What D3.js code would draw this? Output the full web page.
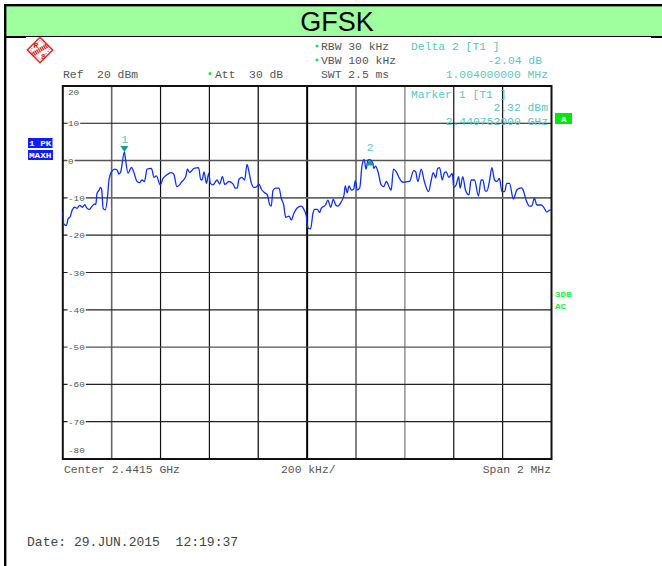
<!DOCTYPE html>
<html><head><meta charset="utf-8">
<script src="https://cdn.jsdelivr.net/npm/d3@7/dist/d3.min.js"></script>
<style>html,body{margin:0;padding:0;background:#fff}svg{display:block}
text{white-space:pre;font-family:"Liberation Mono","DejaVu Sans Mono",monospace}</style>
</head><body><svg id="c" width="662" height="566"></svg>
<script>
const title = "GFSK";
const traceOffsetKHz = [1,4,15,22,29,39,49,58,69,80,90,97,108,120,131,135,140,149,154,159,165,174,183,189,199,213,222,230,237,252,256,267,281,290,304,315,324,334,345,363,373,383,399,410,424,442,454,467,478,488,503,
510,519,537,556,564,570,578,588,597,604,615,631,642,653,663,680,697,706,714,721,733,744,754,762,772,783,793,803,812,826,837,847,853,860,870,885,894,904,912,926,935,946,965,976,987,997,1003,1014,1024,1031,
1042,1051,1058,1075,1085,1096,1107,1117,1126,1140,1151,1156,1164,1171,1181,1190,1197,1205,1215,1224,1233,1241,1249,1256,1269,1272,1280,1290,1303,1313,1324,1338,1344,1353,1365,1378,1392,1419,1436,1444,1453,1467,1478,1497,1508,1516,
1526,1534,1542,1553,1562,1569,1580,1594,1600,1610,1620,1626,1637,1648,1662,1671,1685,1701,1712,1719,1729,1735,1746,1756,1767,1776,1787,1797,1808,1817,1828,1844,1858,1876,1883,1896,1910,1919,1930,1940,1958,1967,1981,1992,1999];
const traceLevelDbm = [-13.7,-17.0,-17.4,-15.5,-15.2,-13.2,-12.5,-12.8,-12.0,-12.5,-11.8,-12.6,-13.1,-12.2,-11.6,-11.8,-8.8,-7.9,-7.2,-7.7,-12.8,-13.2,-9.7,-5.2,-3.0,-2.3,-2.5,-3.6,-3.0,2.32,0.6,-3.4,-1.8,-3.0,-5.6,-5.9,-5.2,-5.6,-2.3,-2.1,-4.5,-4.1,-6.5,-4.8,-3.9,-3.2,-3.6,-7.0,-6.5,-5.6,-4.3,
-2.3,-3.2,-2.1,-1.9,-5.0,-5.2,-3.0,-6.1,-3.4,-6.1,-6.5,-5.2,-6.3,-4.3,-6.4,-5.6,-6.3,-7.4,-7.4,-5.0,-4.5,-5.2,-1.0,-3.0,-6.1,-7.2,-7.0,-6.3,-7.6,-8.6,-9.2,-11.9,-12.2,-8.1,-7.4,-7.4,-10.1,-11.9,-15.2,-14.9,-15.9,-14.1,-12.4,-12.2,-13.1,-15.0,-18.0,-18.3,-14.1,-13.1,
-13.1,-13.9,-12.8,-11.9,-10.6,-12.5,-10.4,-11.9,-12.2,-11.0,-9.2,-6.8,-8.6,-6.8,-7.9,-7.7,-5.4,-7.9,-7.4,-1.6,0.3,-2.3,0.2,0.28,-0.7,-2.1,-1.5,-3.0,-6.5,-7.0,-5.6,-7.4,-7.9,-2.3,-3.0,-4.8,-5.8,-5.6,-2.7,-3.0,-5.6,-2.3,-5.2,-8.3,-5.2,-3.2,
-4.6,-2.1,-1.9,-5.2,-3.2,-3.0,-4.5,-3.4,-7.2,-6.5,-4.3,-7.4,-4.3,-7.9,-9.2,-5.2,-5.2,-9.5,-5.2,-5.2,-8.1,-8.2,-5.6,-1.9,-5.2,-5.6,-4.8,-8.3,-8.3,-6.1,-6.1,-10.3,-7.9,-7.3,-7.7,-10.6,-12.2,-12.2,-10.1,-11.9,-11.9,-12.4,-13.8,-13.3,-13.3];
const yTickValues = [20,10,0,-10,-20,-30,-40,-50,-60,-70,-80];
const xTickOffsets = [200,400,600,800,1000,1200,1400,1600,1800];
const markerNames = ["1","2"];
const markerOffsetKHz = [252,1256];
const markerLevelDbm = [2.32,0.28];
const headerLeft = ["RBW 30 kHz","VBW 100 kHz","SWT 2.5 ms"];
const markerDelta = ["Delta 2 [T1 ]","-2.04 dB","1.004000000 MHz"];
const markerOne = ["Marker 1 [T1 ]","2.32 dBm","2.440752000 GHz"];
const traceNames = ["1 PK","MAXH"];
const statusFlags = ["3DB","AC"];

const svg = d3.select("#c");
const W = 662, H = 566;
const L = 62.8, R = 551.5, T = 86, B = 459;
const CH = 6.82;
const x = d3.scaleLinear().domain([0,2000]).range([L,R]);
const y = d3.scaleLinear().domain([20,-80]).range([T,B]);

function label(s, px, py, o={}) {
  const n = s.length, w = (o.ch||CH)*n, fs = o.fs||10;
  const left = o.right ? px - w : px;
  return svg.append("text").attr("x",left).attr("y",py).attr("font-size",fs)
    .attr("fill",o.fill||"#555").attr("font-weight",o.bold?"bold":null)
    .attr("textLength",w).attr("lengthAdjust","spacingAndGlyphs").text(s);
}

// header and page frame
svg.append("rect").attr("x",5).attr("y",5).attr("width",W-5).attr("height",31).attr("fill","#9fff9f");
svg.append("rect").attr("x",4).attr("y",4).attr("width",W-4).attr("height",2.4).attr("fill","#000");
svg.append("rect").attr("x",4).attr("y",4).attr("width",2.4).attr("height",H-4).attr("fill","#000");
svg.append("rect").attr("x",5).attr("y",36).attr("width",W-5).attr("height",1).attr("fill","#000");
svg.append("rect").attr("x",5).attr("y",36).attr("width",21).attr("height",2).attr("fill","#000");
svg.append("rect").attr("x",651).attr("y",36).attr("width",11).attr("height",2).attr("fill","#000");
svg.append("text").attr("x",337).attr("y",31).attr("text-anchor","middle")
  .style("font-family","'Liberation Sans',Arial,sans-serif").attr("font-size",27).attr("fill","#000").text(title);

// R&S logo
const logo = svg.append("g").attr("transform","translate(40,50)");
logo.append("rect").attr("x",-9).attr("y",-9).attr("width",18).attr("height",18).attr("transform","rotate(45)")
  .attr("fill","#fff").attr("stroke","#d22").attr("stroke-width",1.4);
logo.append("rect").attr("x",-6.8).attr("y",-6.8).attr("width",13.6).attr("height",13.6).attr("transform","rotate(45)")
  .attr("fill","none").attr("stroke","#d22").attr("stroke-width",0.8).attr("stroke-dasharray","1.5 1.5");
logo.append("line").attr("x1",-8).attr("y1",5).attr("x2",8).attr("y2",-5).attr("stroke","#d33").attr("stroke-width",4.5).attr("stroke-dasharray","1.4 0.6");
logo.append("text").attr("x",-4).attr("y",-2).attr("text-anchor","middle").attr("font-size",8).attr("font-weight","bold").attr("fill","#c22").text("R");
logo.append("text").attr("x",3.5).attr("y",8.5).attr("text-anchor","middle").attr("font-size",8).attr("font-weight","bold").attr("fill","#c22").text("S");

// top instrument readouts
label("Ref  20 dBm",63,78);
label("Att  30 dB",215,78);
headerLeft.forEach((s,i)=>label(s,321,50+14*i));
[[317,46],[317,60],[210,73.5]].forEach(p=>svg.append("circle").attr("cx",p[0]).attr("cy",p[1]).attr("r",1.5).attr("fill","#22dd55"));
label(markerDelta[0],411,50,{fill:"#5cc4c4"});
label(markerDelta[1],542,64,{fill:"#5cc4c4",right:true});
label(markerDelta[2],548,78,{fill:"#5cc4c4",right:true});

// grid via axes
const vStyle = {200:["#666",1.6],400:["#111",1.2],600:["#111",1.2],800:["#333",1.5],1000:["#000",2],1200:["#666",1.6],1400:["#777",1.2],1600:["#111",1.2],1800:["#111",1.2]};
const hStyle = {10:["#111",1.1],0:["#555",1.5],"-10":["#666",1.6],"-20":["#222",1.2],"-30":["#222",1.2],"-40":["#222",1.2],"-50":["#555",1.4],"-60":["#222",1.2],"-70":["#222",1.2]};

const gx = svg.append("g").attr("transform",`translate(0,${B})`)
  .call(d3.axisBottom(x).offset(0).tickValues(xTickOffsets).tickSize(-(B-T)).tickFormat(""));
gx.select(".domain").remove();
gx.selectAll(".tick line").attr("stroke",d=>vStyle[d][0]).attr("stroke-width",d=>vStyle[d][1]);

const gy = svg.append("g").attr("transform",`translate(${L},0)`)
  .call(d3.axisLeft(y).offset(0).tickValues(yTickValues.filter(v=>v!==20&&v!==-80)).tickSize(-(R-L)).tickFormat(""));
gy.select(".domain").remove();
gy.selectAll(".tick line").attr("stroke",d=>hStyle[d][0]).attr("stroke-width",d=>hStyle[d][1]);

// frame
svg.append("rect").attr("x",L).attr("y",T).attr("width",R-L).attr("height",B-T).attr("fill","none").attr("stroke","#111").attr("stroke-width",2);

// y labels
yTickValues.forEach(v=>{
  const s = String(v);
  const w = 5.6*s.length, start = 68;
  const py = (v===20) ? y(v)+9 : (v===-80) ? y(v)-6 : y(v)+3;
  if (v!==20 && v!==-80) svg.append("rect").attr("x",start-0.5).attr("y",y(v)-3).attr("width",w+1.5).attr("height",6).attr("fill","#fff");
  label(s,start,py,{ch:5.6,fs:8});
});

// lower readouts
label("Center 2.4415 GHz",64,473);
label("200 kHz/",281,473);
label("Span 2 MHz",551,473,{right:true});
label("Date: 29.JUN.2015  12:19:37",27,546,{ch:7.82,fs:13,fill:"#444"});

// marker panel in plot
label(markerOne[0],411,97.5,{fill:"#5cc4c4"});
label(markerOne[1],548,111,{fill:"#5cc4c4",right:true});
label(markerOne[2],548,125,{fill:"#5cc4c4",right:true});

// side flags
traceNames.forEach((s,i)=>{
  svg.append("rect").attr("x",28).attr("y",138+i*12).attr("width",24.5+i*0.5).attr("height",10).attr("fill","#0a1eff");
  label(s,29,146+i*12,{fill:"#fff",ch:5.6,fs:8,bold:true});
});
svg.append("rect").attr("x",555).attr("y",113).attr("width",17).attr("height",11).attr("fill","#00e60a");
label("A",561,121.5,{fill:"#fff",ch:5.5,fs:8,bold:true});
statusFlags.forEach((s,i)=>label(s,555,297+i*12,{fill:"#22ee44",ch:5.6,fs:8,bold:true}));

// trace
const line = d3.line().x((d,i)=>x(traceOffsetKHz[i])).y(d=>y(d)).curve(d3.curveMonotoneX);
svg.append("path").datum(traceLevelDbm).attr("d",line).attr("fill","none")
  .attr("stroke","#1030ee").attr("stroke-width",1.3).attr("stroke-linejoin","round");

// markers: 1 points down onto the peak, 2 points up from the trace
markerNames.forEach((m,i)=>{
  const mx = x(markerOffsetKHz[i]), my = y(markerLevelDbm[i]);
  const dir = i===0 ? -1 : 1;
  svg.append("path").attr("d",d3.line()([[mx-4,my+dir*6],[mx+4,my+dir*6],[mx,my]])).attr("fill","#159a9a");
  label(m,mx-3,my-9,{fill:"#5cc4c4"});
});
</script></body></html>
